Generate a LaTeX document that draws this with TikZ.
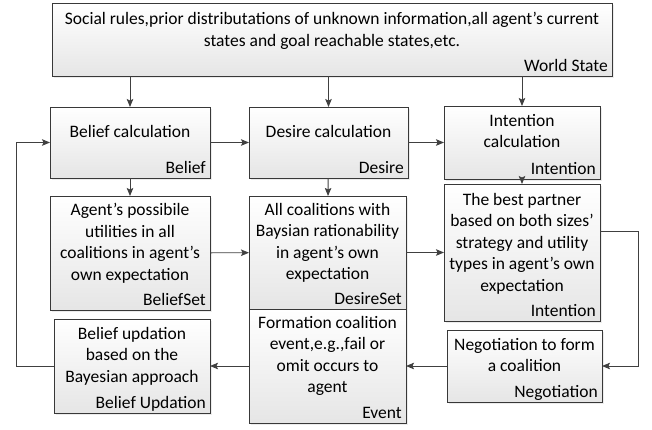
\documentclass[tikz,border=0pt]{standalone}
\usepackage{fontspec}
\setmainfont{Carlito}
\usetikzlibrary{arrows,arrows.meta,positioning,shadows}
\tikzset{
    box/.style={rectangle,draw=black!78,line width=0.9pt,inner sep=0pt,outer sep=0pt,
        anchor=north west,top color=white,bottom color=black!10,
        drop shadow={opacity=0.15,shadow xshift=1.5pt,shadow yshift=-1.5pt}},
    body/.style={align=center,inner sep=0pt,anchor=north},
    tag/.style={inner sep=0pt,anchor=base east},
    pre/.style={-{Stealth[length=8pt,width=6.5pt,inset=1.5pt]},line width=0.9pt,draw=black!75}
}

\begin{document}
\begin{tikzpicture}[x=1pt,y=-1pt,font=\fontsize{17.5}{21.5}\selectfont]
    \useasboundingbox (0,0) rectangle (652,429);
    % boxes
    \node[box,minimum width=560pt,minimum height=73pt] (world) at (52,3) {};
    \node[box,minimum width=160pt,minimum height=71pt] (bcalc) at (50,107) {};
    \node[box,minimum width=159pt,minimum height=71pt] (dcalc) at (249,107) {};
    \node[box,minimum width=156pt,minimum height=73pt] (icalc) at (444,106) {};
    \node[box,minimum width=160pt,minimum height=114pt] (bset) at (50,196) {};
    \node[box,minimum width=157pt,minimum height=113pt] (dset) at (249,196) {};
    \node[box,minimum width=157pt,minimum height=114pt] (event) at (249,309) {};
    \node[box,minimum width=156pt,minimum height=137pt] (best) at (444,184) {};
    \node[box,minimum width=155pt,minimum height=72pt] (nego) at (447,330) {};
    \node[box,minimum width=156pt,minimum height=94pt] (bupd) at (54,319) {};
    % texts
    \node[body] (worldtxt) at ([yshift=-9pt]world.north) {Social rules,prior distributations of unknown information,all agent's current\\states and goal reachable states,etc.};
    \node[body] (bcalctxt) at ([yshift=-18pt]bcalc.north) {Belief calculation};
    \node[body] (dcalctxt) at ([yshift=-18pt]dcalc.north) {Desire calculation};
    \node[body] (icalctxt) at ([yshift=-8pt]icalc.north) {Intention\\calculation};
    \node[body] (bsettxt) at ([yshift=-7pt]bset.north) {Agent's possibile\\utilities in all\\coalitions in agent's\\own expectation};
    \node[body] (dsettxt) at ([yshift=-7pt]dset.north) {All coalitions with\\Baysian rationability\\in agent's own\\expectation};
    \node[body] (eventtxt) at ([yshift=-7pt]event.north) {Formation coalition\\event,e.g.,fail or\\omit occurs to\\agent};
    \node[body] (besttxt) at ([yshift=-9pt]best.north) {The best partner\\based on both sizes'\\strategy and utility\\types in agent's own\\expectation};
    \node[body] (negotxt) at ([yshift=-8pt]nego.north) {Negotiation to form\\a coalition};
    \node[body] (bupdtxt) at ([yshift=-8pt]bupd.north) {Belief updation\\based on the\\Bayesian approach};
    % tags
    \node[tag] (worldtag) at ([xshift=-4pt,yshift=5pt]world.south east) {World State};
    \node[tag] (bcalctag) at ([xshift=-4pt,yshift=5pt]bcalc.south east) {Belief};
    \node[tag] (dcalctag) at ([xshift=-4pt,yshift=5pt]dcalc.south east) {Desire};
    \node[tag] (icalctag) at ([xshift=-4pt,yshift=5pt]icalc.south east) {Intention};
    \node[tag] (bsettag) at ([xshift=-4pt,yshift=5pt]bset.south east) {BeliefSet};
    \node[tag] (dsettag) at ([xshift=-4pt,yshift=5pt]dset.south east) {DesireSet};
    \node[tag] (eventtag) at ([xshift=-4pt,yshift=5pt]event.south east) {Event};
    \node[tag] (besttag) at ([xshift=-4pt,yshift=5pt]best.south east) {Intention};
    \node[tag] (negotag) at ([xshift=-4pt,yshift=5pt]nego.south east) {Negotiation};
    \node[tag] (bupdtag) at ([xshift=-4pt,yshift=5pt]bupd.south east) {Belief Updation};
    % connectors
    \draw[pre] (world.south -| bcalc.north) -- (bcalc.north);
    \draw[pre] (world.south -| dcalc.north) -- (dcalc.north);
    \draw[pre] (world.south -| icalc.north) -- (icalc.north);
    \draw[pre] (bcalc) -- (dcalc);
    \draw[pre] (dcalc) -- (icalc);
    \draw[pre] (bcalc) -- (bset);
    \draw[pre] (dcalc) -- (dset);
    \draw[pre] (icalc) -- (best);
    \draw[pre] (bset) -- (dset);
    \draw[pre] (dset.east) -- (dset.east -| best.west);
    \draw[pre] ([yshift=21pt]best.east) -- ++(38,0) |- (nego.east);
    \draw[pre] (nego.west) -- (nego.west -| event.east);
    \draw[pre] (event.west) -- (event.west -| bupd.east);
    \draw[pre] (bupd.west) -- ++(-38,0) |- (bcalc.west);
\end{tikzpicture}
\end{document}
